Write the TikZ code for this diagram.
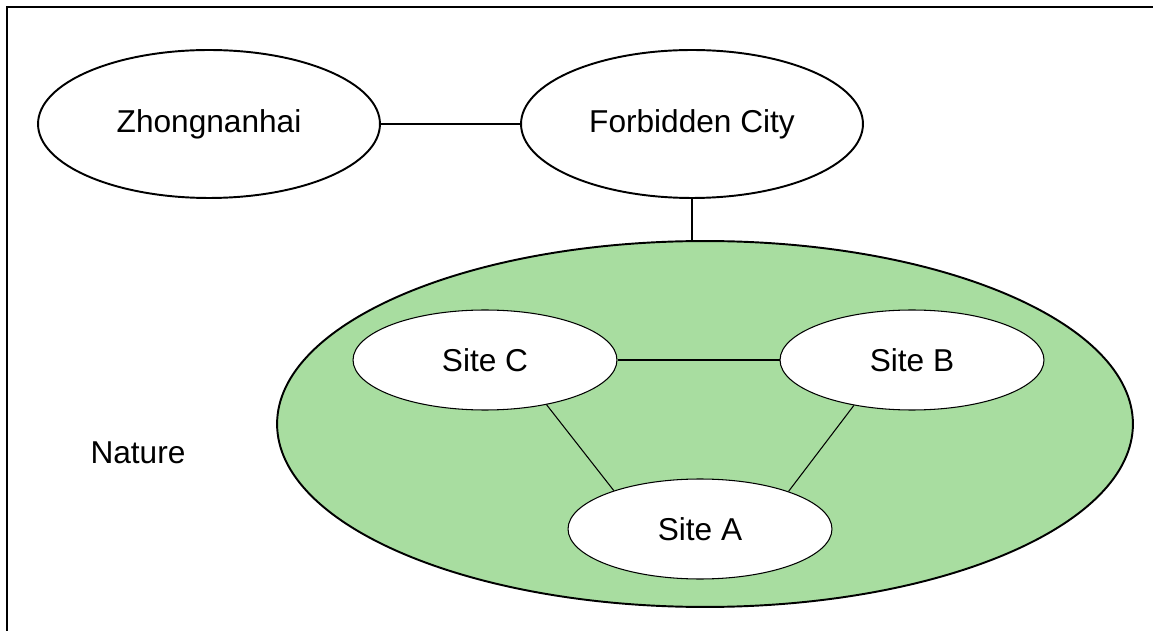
\documentclass[tikz,border=0pt]{standalone}
\usepackage{fontspec}
\setmainfont{Liberation Sans}
\usepackage{tikz}
\usetikzlibrary{shapes.geometric}
\definecolor{naturegreen}{RGB}{168,221,160}

\begin{document}
\begin{tikzpicture}[x=0.02cm,y=-0.02cm,
    every node/.style={font=\fontsize{18}{20}\selectfont},
    place/.style={ellipse,draw,line width=1.1pt,fill=white,inner sep=0pt,
        minimum width=6.84cm,minimum height=2.96cm},
    site/.style={ellipse,draw,line width=0.6pt,fill=white,inner sep=0pt,
        minimum width=5.28cm,minimum height=2cm}]
\useasboundingbox (0,0) rectangle (1153,631);
\draw[line width=1.2pt] (7,631) -- (7,7) -- (1153,7);
% the green area and the label beside it
\node[ellipse,draw,line width=1.1pt,fill=naturegreen,inner sep=0pt,
    minimum width=17.12cm,minimum height=7.32cm] (nature) at (705,424) {};
\node (natureLabel) at (138,453) {Nature};
% upper pair
\node[place] (zhong) at (209,124) {Zhongnanhai};
\node[place] (forbidden) at (692,124) {Forbidden City};
\draw[line width=0.9pt] (zhong.east) -- (forbidden.west);
\draw[line width=0.9pt] (forbidden.south) -- (forbidden.south |- nature.north);
% the three sites
\node[site] (siteC) at (485,360) {Site C};
\node[site] (siteB) at (912,360) {Site B};
\node[site] (siteA) at (700,529) {Site A};
\draw[line width=0.6pt] (siteC.east) -- (siteB.west);
\draw[line width=0.6pt] (siteC.-36) -- (siteA.156);
\draw[line width=0.6pt] (siteB.-142) -- (siteA.23);
\end{tikzpicture}
\end{document}
